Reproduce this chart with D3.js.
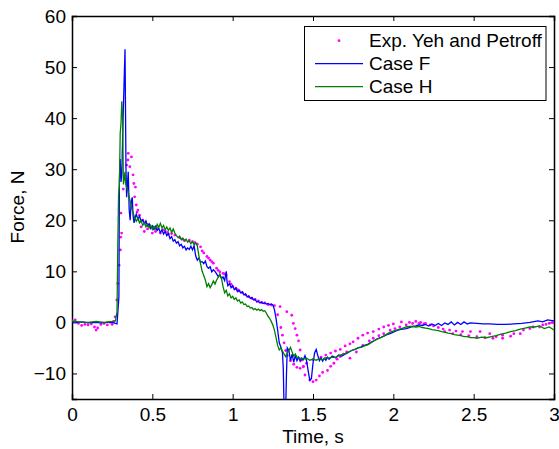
<!DOCTYPE html>
<html>
<head>
<meta charset="utf-8">
<script src="https://cdn.jsdelivr.net/npm/d3@7"></script>
<style>
  body { margin: 0; background: #fff; }
  text { font-family: "Liberation Sans", Arial, Helvetica, sans-serif; }
</style>
</head>
<body>
<div class="chart"></div>
<script>
// ticks
var timeTicks = [0, 0.5, 1, 1.5, 2, 2.5, 3];
var forceTicks = [-10, 0, 10, 20, 30, 40, 50, 60];
var legendLabels = ["Exp. Yeh and Petroff", "Case F", "Case H"];

// experiment (dots), [time s, force N]
var expYehPetroff = [
  [0.00,0.3],[0.02,0.5],[0.04,-0.2],[0.06,-0.6],[0.08,-0.4],[0.10,-0.5],[0.12,-0.3],[0.14,-0.9],
  [0.15,-1.5],[0.16,-1.1],[0.18,-0.4],[0.20,-0.2],[0.22,-0.5],[0.24,0.0],[0.25,-0.4],[0.26,0.2],
  [0.268,1.1],[0.279,4.4],[0.285,7.6],[0.293,11.2],[0.301,14.2],[0.303,16.7],[0.309,17.5],[0.305,21.4],
  [0.319,26.1],[0.330,28.2],[0.340,30.8],[0.348,31.8],[0.350,33.1],[0.370,32.4],[0.360,30.5],[0.380,28.9],
  [0.390,24.6],[0.400,23.0],[0.410,22.0],[0.395,26.5],[0.43,18.7],[0.45,17.8],[0.42,21.0],[0.44,20.0],
  [0.48,19.1],[0.50,17.5],[0.52,17.8],[0.46,19.4],[0.55,17.5],[0.58,17.9],[0.60,17.3],[0.62,17.4],
  [0.385,27.2],[0.405,21.6],[0.47,18.3],[0.535,18.4],[0.565,18.1],[0.595,17.6],[0.685,16.3],
  [0.64,17.1],[0.67,16.6],[0.70,16.0],[0.73,16.1],[0.75,15.8],[0.78,15.3],[0.80,14.8],[0.82,13.6],
  [0.84,12.9],[0.86,12.2],[0.88,11.6],[0.90,10.6],[0.92,9.9],[0.94,9.6],[0.96,9.3],[0.98,8.0],
  [0.765,15.6],[0.81,14.0],[0.85,12.6],[0.87,11.9],[0.91,10.2],[0.95,9.5],[0.99,7.5],[1.03,6.4],
  [1.00,7.0],[1.02,6.7],[1.04,6.2],[1.06,5.8],[1.08,5.4],[1.10,5.0],[1.12,4.7],[1.14,4.5],
  [1.16,4.2],[1.18,3.9],[1.20,3.8],[1.22,3.5],[1.24,3.4],
  // later trail
  [1.26,3.3],[1.295,3.1],[1.337,2.1],[1.368,1.4],[1.378,-0.2],[1.389,-1.2],[1.40,-2.5],[1.41,-3.6],
  [1.42,-5.4],[1.43,-7.4],[1.44,-8.7],[1.45,-10.3],[1.48,-11.3],[1.50,-11.6],[1.52,-11.3],[1.54,-10.5],
  [1.56,-9.8],[1.59,-9.4],[1.61,-8.6],[1.63,-8.0],[1.65,-7.2],[1.67,-6.7],[1.69,-6.2],[1.71,-5.8],
  [1.73,-7.0],[1.77,-5.8],[1.81,-4.5],[1.85,-3.6],[1.875,-3.1],[1.91,-2.6],[1.94,-2.2],[1.98,-1.5],
  [2.01,-1.2],[2.04,-0.9],[2.08,-0.5],[2.12,-0.2],[2.16,-0.2],[2.19,-0.3],[2.25,-0.7],
  // earlier trail
  [1.28,1.5],[1.30,-1.0],[1.31,-2.5],[1.32,-4.0],[1.33,-5.5],[1.34,-6.5],[1.36,-7.5],[1.38,-8.2],
  [1.40,-8.8],[1.42,-9.0],[1.44,-8.6],[1.46,-8.0],[1.50,-7.3],[1.55,-6.8],[1.58,-6.4],[1.61,-6.0],
  [1.64,-5.6],[1.67,-5.3],[1.70,-4.6],[1.73,-4.2],[1.75,-3.8],[1.78,-3.1],[1.81,-2.5],[1.84,-2.1],
  [1.875,-1.8],[1.91,-1.3],[1.94,-0.9],[1.97,-0.6],[2.00,-0.3],[2.05,0.1],[2.10,0.0],[2.14,0.2],
  [2.17,0.0],[2.20,-0.2],[2.23,-0.5],
  // tail
  [2.28,-1.0],[2.31,-1.3],[2.35,-1.5],[2.39,-1.7],[2.43,-1.8],[2.48,-1.8],[2.54,-1.8],[2.60,-2.2],
  [2.64,-2.8],[2.68,-2.5],[2.75,-2.2],[2.81,-1.5],[2.87,-0.9],[2.93,-0.5],[2.97,-0.2],
  [2.32,-1.8],[2.37,-2.2],[2.42,-2.4],[2.47,-2.6],[2.52,-2.8],[2.57,-3.0],[2.62,-3.1],[2.68,-3.1],
  [2.73,-2.7],[2.79,-2.2],[2.85,-1.2],[2.91,-0.9],[2.95,-0.4],[2.99,0.0]
];

// Case F (blue line)
var caseF = [
  [0.00,0.2],[0.03,0.0],[0.06,0.1],[0.10,-0.1],[0.14,0.0],[0.18,-0.1],[0.22,0.0],[0.25,0.0],[0.27,-0.2],[0.28,-0.3],
  [0.292,5],[0.295,28],[0.300,32],[0.305,27.5],[0.310,29],[0.318,40],[0.330,53.5],[0.336,30],[0.340,24.5],
  [0.345,27],[0.350,29.5],[0.356,22],[0.362,20.0],[0.368,23.5],[0.375,24.5],[0.380,21],[0.386,19.5],
  [0.393,20.5],[0.40,21.2],[0.41,20.2],[0.42,20.8],[0.43,19.8],[0.44,20.1],[0.45,19.4],[0.46,19.9],
  [0.47,18.9],[0.48,19.3],[0.49,18.4],[0.50,18.9],[0.51,18.2],[0.52,18.8],[0.53,18.0],[0.54,18.4],
  [0.55,17.6],[0.56,18.1],[0.57,17.3],[0.58,17.8],[0.59,17.0],[0.60,17.4],[0.61,16.4],[0.62,16.8],
  [0.63,15.9],[0.64,16.2],[0.65,15.5],[0.66,15.8],[0.67,15.0],[0.68,15.3],[0.69,14.6],[0.70,14.9],
  [0.71,14.2],[0.72,14.6],[0.73,14.3],[0.74,14.9],[0.75,14.2],[0.76,15.0],[0.77,13.0],[0.78,12.2],
  [0.79,12.6],[0.80,11.8],[0.81,11.9],[0.82,11.5],[0.83,12.0],[0.84,10.9],[0.85,10.6],[0.86,10.9],
  [0.87,9.9],[0.88,10.3],[0.89,10.0],[0.90,9.5],[0.91,9.0],[0.92,9.3],[0.93,8.6],[0.94,8.9],
  [0.95,8.2],[0.96,10.0],[0.965,8.0],[0.97,7.2],[0.98,7.6],[0.99,6.8],[1.00,7.2],[1.01,6.4],
  [1.02,6.7],[1.03,6.0],[1.04,6.3],[1.05,5.8],[1.06,6.0],[1.07,5.4],[1.08,5.6],[1.09,5.0],
  [1.10,5.2],[1.11,4.7],[1.12,4.9],[1.13,4.4],[1.14,4.5],[1.15,4.0],[1.16,4.1],[1.17,3.8],
  [1.18,4.0],[1.19,3.7],[1.20,3.8],[1.21,3.6],[1.22,3.7],[1.23,3.5],[1.24,3.6],[1.25,3.4],
  [1.26,2.5],[1.27,0.8],[1.28,-1.5],[1.29,-4],[1.30,-4.8],[1.31,-6],[1.315,-9],[1.32,-17],
  [1.33,-17],[1.335,-10],[1.34,-5],[1.35,-5.5],[1.36,-7.5],[1.37,-6.2],[1.38,-7.8],[1.39,-6.5],
  [1.40,-7.5],[1.41,-6.8],[1.42,-7.6],[1.43,-7.0],[1.44,-7.3],[1.45,-6.5],[1.46,-7.5],[1.47,-9.5],
  [1.48,-11.3],[1.49,-11.0],[1.50,-8],[1.51,-6.0],[1.52,-5.3],[1.53,-6.5],[1.54,-7.5],[1.55,-7.0],
  [1.56,-7.6],[1.57,-7.0],[1.58,-7.4],[1.59,-6.8],[1.60,-7.2],[1.62,-6.6],[1.64,-6.9],[1.66,-6.4],
  [1.68,-6.6],[1.70,-6.2],[1.72,-5.9],[1.74,-5.5],[1.76,-5.3],[1.78,-5.0],[1.80,-4.8],[1.82,-4.5],
  [1.84,-4.3],[1.86,-3.9],[1.88,-3.6],[1.90,-3.2],[1.92,-3.0],[1.94,-2.7],[1.96,-2.4],[1.98,-2.2],
  [2.00,-1.9],[2.02,-1.6],[2.04,-1.4],[2.06,-1.3],[2.08,-1.2],[2.10,-1.0],[2.12,-0.8],[2.14,-0.7],
  [2.16,-0.5],[2.18,-0.6],[2.20,-0.4],[2.22,-0.7],[2.24,-0.3],[2.26,-0.6],[2.28,-0.2],[2.30,-0.6],
  [2.32,-0.1],[2.34,-0.4],[2.36,0.1],[2.38,-0.5],[2.40,0.0],[2.42,-0.4],[2.44,0.1],[2.46,-0.3],
  [2.48,-0.1],[2.52,-0.2],[2.56,-0.3],[2.60,-0.3],[2.65,-0.4],[2.70,-0.4],[2.75,-0.3],[2.80,-0.2],
  [2.85,0.0],[2.90,0.3],[2.93,0.1],[2.96,0.5],[3.00,0.3]
];

// Case H (green line)
var caseH = [
  [0.00,0.3],[0.05,0.1],[0.10,0.0],[0.15,0.2],[0.20,0.0],[0.25,0.2],[0.27,0.3],[0.28,2],[0.285,15],
  [0.29,25],[0.295,27],[0.30,37],[0.305,39],[0.31,43.3],[0.315,40],[0.32,27],[0.325,28],[0.33,29.5],
  [0.335,27],[0.34,26.5],[0.35,25.5],[0.36,24],[0.37,22.5],[0.38,21.5],[0.39,20.5],[0.40,19.8],
  [0.41,20.4],[0.42,19.5],[0.43,19.9],[0.44,19.0],[0.45,19.5],[0.46,18.7],[0.47,19.2],[0.48,18.5],
  [0.49,19.0],[0.50,18.2],[0.51,18.8],[0.52,18.3],[0.53,19.2],[0.54,18.6],[0.55,19.4],[0.56,18.5],
  [0.57,19.0],[0.58,18.1],[0.59,18.7],[0.60,18.0],[0.61,18.5],[0.62,17.6],[0.63,18.3],[0.64,17.5],
  [0.65,17.0],[0.66,16.6],[0.67,16.9],[0.68,16.2],[0.69,16.5],[0.70,16.0],[0.71,16.3],[0.72,15.7],
  [0.73,16.0],[0.74,15.4],[0.75,15.8],[0.76,15.2],[0.77,15.6],[0.78,15.0],[0.79,13.0],[0.80,11.5],
  [0.81,10.0],[0.82,9.2],[0.83,8.3],[0.84,7.0],[0.85,7.6],[0.86,6.8],[0.87,7.4],[0.88,8.1],
  [0.89,7.5],[0.90,8.3],[0.91,8.8],[0.92,9.5],[0.93,8.7],[0.94,7.0],[0.95,5.8],[0.96,6.3],
  [0.97,5.2],[0.98,5.6],[0.99,4.8],[1.00,5.1],[1.01,4.5],[1.02,4.8],[1.03,4.2],[1.04,4.4],
  [1.05,3.8],[1.06,4.0],[1.07,3.5],[1.08,3.6],[1.09,3.1],[1.10,3.2],[1.11,2.8],[1.12,2.9],
  [1.13,2.5],[1.14,2.7],[1.15,2.4],[1.16,2.6],[1.17,2.3],[1.18,2.5],[1.19,2.2],[1.20,2.3],
  [1.21,1.8],[1.22,1.2],[1.23,0.8],[1.24,0.2],[1.25,-0.5],[1.26,-1.5],[1.27,-3],[1.28,-4.5],
  [1.29,-5.4],[1.30,-5.0],[1.31,-5.6],[1.32,-6.2],[1.33,-6.7],[1.34,-6.0],[1.35,-5.5],[1.36,-4.9],
  [1.37,-5.8],[1.38,-6.6],[1.39,-6.2],[1.40,-6.8],[1.42,-7.0],[1.44,-7.2],[1.46,-7.0],[1.48,-7.4],
  [1.50,-7.2],[1.52,-7.4],[1.54,-7.1],[1.56,-7.3],[1.58,-6.9],[1.60,-7.0],[1.62,-6.8],[1.64,-6.9],
  [1.66,-6.5],[1.68,-6.3],[1.70,-6.1],[1.72,-5.8],[1.74,-5.5],[1.76,-5.3],[1.78,-5.0],[1.80,-4.9],
  [1.82,-4.6],[1.84,-4.4],[1.86,-4.0],[1.88,-3.6],[1.90,-3.3],[1.92,-3.0],[1.94,-2.7],[1.96,-2.3],
  [1.98,-1.9],[2.00,-1.7],[2.02,-1.5],[2.04,-1.3],[2.06,-1.1],[2.08,-0.9],[2.10,-0.8],[2.12,-0.8],
  [2.14,-0.9],[2.16,-0.8],[2.18,-1.0],[2.20,-1.1],[2.22,-1.2],[2.24,-1.4],[2.26,-1.5],[2.28,-1.6],
  [2.30,-1.8],[2.32,-1.9],[2.34,-2.1],[2.36,-2.2],[2.38,-2.4],[2.40,-2.5],[2.42,-2.6],[2.44,-2.8],
  [2.46,-2.8],[2.48,-3.0],[2.50,-3.0],[2.52,-3.1],[2.55,-2.9],[2.58,-3.0],[2.61,-2.8],[2.64,-2.6],
  [2.67,-2.3],[2.70,-2.1],[2.73,-1.8],[2.76,-1.6],[2.79,-1.3],[2.82,-1.1],[2.85,-0.9],[2.88,-0.9],
  [2.91,-0.7],[2.94,-1.2],[2.97,-0.9],[3.00,-1.5]
];

var width = 559, height = 449;
var axLeft = 72, axRight = 554, axTop = 16, axBottom = 399;
var fontSize = "19px";

var svg = d3.select(".chart").append("svg")
  .attr("width", width)
  .attr("height", height);

var x = d3.scaleLinear().domain([0, 3]).range([axLeft, axRight]);
var y = d3.scaleLinear().domain([-15, 60]).range([axBottom, axTop]);

svg.append("clipPath").attr("id", "clip")
  .append("rect")
  .attr("x", axLeft).attr("y", axTop)
  .attr("width", axRight - axLeft).attr("height", axBottom - axTop);

var fmtNum = function(d){ return d < 0 ? "\u2212" + Math.abs(d) : String(d); };

//les axes
svg.append("g")
  .attr("transform", "translate(0," + axBottom + ")")
  .call(d3.axisBottom(x).tickValues(timeTicks).tickSize(-5).tickPadding(9).tickFormat(fmtNum));
svg.append("g")
  .attr("transform", "translate(0," + axTop + ")")
  .call(d3.axisTop(x).tickValues(timeTicks).tickSize(-5).tickFormat(""));
svg.append("g")
  .attr("transform", "translate(" + axLeft + ",0)")
  .call(d3.axisLeft(y).tickValues(forceTicks).tickSize(-5).tickPadding(6).tickFormat(fmtNum));
svg.append("g")
  .attr("transform", "translate(" + axRight + ",0)")
  .call(d3.axisRight(y).tickValues(forceTicks).tickSize(-5).tickFormat(""));

svg.selectAll(".domain").attr("stroke", "#000").attr("stroke-width", 1.5);
svg.selectAll(".tick line").attr("stroke", "#000");
svg.selectAll(".tick text")
  .attr("fill", "#000")
  .style("font-size", fontSize)
  .style("font-family", "'Liberation Sans', Arial, sans-serif");

//les données
var plot = svg.append("g").attr("clip-path", "url(#clip)");

plot.selectAll(".exp")
  .data(expYehPetroff)
  .enter().append("circle")
  .attr("class", "exp")
  .attr("cx", function(d){ return x(d[0]); })
  .attr("cy", function(d){ return y(d[1]); })
  .attr("r", 1.4)
  .attr("fill", "#ff00ff");

var line = d3.line()
  .x(function(d){ return x(d[0]); })
  .y(function(d){ return y(d[1]); });

plot.append("path")
  .datum(caseF)
  .attr("d", line)
  .attr("fill", "none")
  .attr("stroke", "#0000ff")
  .attr("stroke-width", 1.3);

plot.append("path")
  .datum(caseH)
  .attr("d", line)
  .attr("fill", "none")
  .attr("stroke", "#008000")
  .attr("stroke-width", 1.3);

//légende
var legend = svg.append("g");
legend.append("rect")
  .attr("x", 304.5).attr("y", 26.5)
  .attr("width", 241.5).attr("height", 74)
  .attr("fill", "#fff")
  .attr("stroke", "#000")
  .attr("stroke-width", 1);

var rowY = [40.7, 63.7, 86.7];
legend.append("circle")
  .attr("cx", 339).attr("cy", rowY[0]).attr("r", 1.4)
  .attr("fill", "#ff00ff");
legend.append("line")
  .attr("x1", 315).attr("x2", 363).attr("y1", rowY[1]).attr("y2", rowY[1])
  .attr("stroke", "#0000ff").attr("stroke-width", 1.3);
legend.append("line")
  .attr("x1", 315).attr("x2", 363).attr("y1", rowY[2]).attr("y2", rowY[2])
  .attr("stroke", "#008000").attr("stroke-width", 1.3);

legend.selectAll(".leg")
  .data(legendLabels)
  .enter().append("text")
  .attr("x", 369)
  .attr("y", function(d, i){ return rowY[i]; })
  .attr("dy", "0.35em")
  .style("font-size", fontSize)
  .text(function(d){ return d; });

// titres des axes
svg.append("text")
  .attr("x", (axLeft + axRight) / 2)
  .attr("y", 443)
  .attr("text-anchor", "middle")
  .style("font-size", fontSize)
  .text("Time, s");

svg.append("text")
  .attr("transform", "translate(24," + 207 + ") rotate(-90)")
  .attr("text-anchor", "middle")
  .style("font-size", fontSize)
  .text("Force, N");
</script>
</body>
</html>
